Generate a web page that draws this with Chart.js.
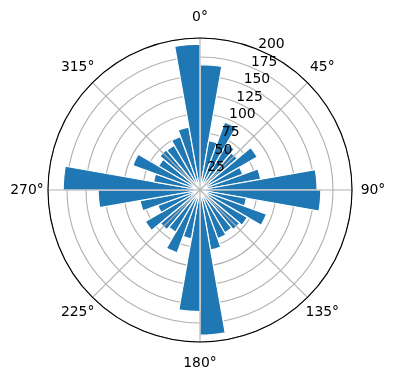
<!DOCTYPE html>
<html>
<head>
<meta charset="utf-8">
<script src="https://cdn.jsdelivr.net/npm/chart.js@4/dist/chart.umd.min.js"></script>
<style>
  html, body { margin: 0; padding: 0; background: #fff; }
  #wrap { width: 396px; height: 380px; }
</style>
</head>
<body>
<div id="wrap"><canvas id="rose"></canvas></div>
<script>
// 36 direction bins of 10 degrees, clockwise from north
const binStarts = [0,10,20,30,40,50,60,70,80,90,100,110,120,130,140,150,160,170,
                   180,190,200,210,220,230,240,250,260,270,280,290,300,310,320,330,340,350];
const counts = [165,66,95,70,64,87,60,81,154,159,62,93,72,68,65,68,80,191,
                160,65,88,64,68,83,59,80,134,180,62,94,63,69,68,75,84,192];
const radialTicks = [25,50,75,100,125,150,175,200];
const angleTicks = [0,45,90,135,180,225,270,315];

const labelFont = '13.9px "DejaVu Sans"';

// angle grid, angle labels, radial labels and the outer spine
const polarDecor = {
  id: 'polarDecor',
  afterDatasetsDraw(chart) {
    const r = chart.scales.r;
    const ctx = chart.ctx;
    const cx = r.xCenter, cy = r.yCenter, R = r.drawingArea;
    ctx.save();
    ctx.strokeStyle = '#b0b0b0';
    ctx.lineWidth = 1.1;
    angleTicks.forEach(a => {
      const t = a * Math.PI / 180;
      ctx.beginPath();
      ctx.moveTo(cx, cy);
      ctx.lineTo(cx + R * Math.sin(t), cy - R * Math.cos(t));
      ctx.stroke();
    });
    // spine
    ctx.strokeStyle = '#000';
    ctx.lineWidth = 1.1;
    ctx.beginPath();
    ctx.arc(cx, cy, R, 0, Math.PI * 2);
    ctx.stroke();

    ctx.fillStyle = '#000';
    ctx.font = labelFont;
    ctx.textAlign = 'center';
    ctx.textBaseline = 'middle';
    angleTicks.forEach(a => {
      const t = a * Math.PI / 180;
      const d = R + 21;
      ctx.fillText(a + '°', cx + d * Math.sin(t), cy - d * Math.cos(t));
    });

    ctx.textAlign = 'left';
    ctx.textBaseline = 'bottom';
    const lt = 22.5 * Math.PI / 180;
    radialTicks.forEach(v => {
      const d = r.getDistanceFromCenterForValue(v);
      ctx.fillText(String(v), cx + d * Math.sin(lt), cy - d * Math.cos(lt) + 2);
    });
    ctx.restore();
  }
};

new Chart(document.getElementById('rose'), {
  type: 'polarArea',
  data: {
    labels: binStarts.map(b => b + '°'),
    datasets: [{
      data: counts,
      backgroundColor: '#1f77b4',
      borderColor: '#ffffff',
      borderWidth: 1.2
    }]
  },
  options: {
    responsive: true,
    maintainAspectRatio: false,
    animation: false,
    layout: { padding: { left: 48, right: 44, top: 38, bottom: 38 } },
    plugins: { legend: { display: false }, tooltip: { enabled: false } },
    scales: {
      r: {
        min: 0,
        max: 200,
        startAngle: 0,
        z: 1,
        ticks: { display: false, stepSize: 25 },
        grid: { circular: true, color: '#b0b0b0', lineWidth: 1.1 },
        angleLines: { display: false },
        pointLabels: { display: false }
      }
    }
  },
  plugins: [polarDecor]
});
</script>
</body>
</html>
